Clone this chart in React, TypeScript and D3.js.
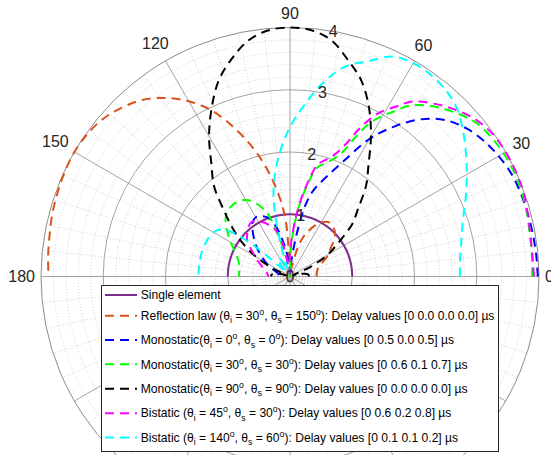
import React from "react";
import * as d3 from "d3";

// polar grid ticks
const rTicks = [0, 1, 2, 3, 4];
const thetaLabels = [0, 30, 60, 90, 120, 150, 180];

// Single element
const singleTheta = [0, 10, 20, 30, 40, 50, 60, 70, 80, 90, 100, 110, 120, 130, 140, 150, 160, 170, 180];
const singleR = [1, 1, 1, 1, 1, 1, 1, 1, 1, 1, 1, 1, 1, 1, 1, 1, 1, 1, 1];

// Reflection law
const reflTheta = [0, 5, 10, 15, 20, 25, 30, 35, 40, 45, 50, 55, 60, 65, 70, 73, 76, 80, 85, 90, 93, 95, 100, 105, 110, 115, 120, 125, 130, 135, 140, 145, 150, 155, 160, 165, 170, 175, 180];
const reflR = [0.43, 0.43, 0.44, 0.46, 0.5, 0.6, 0.72, 0.8, 0.93, 1.02, 1.06, 1.07, 1.0, 0.88, 0.72, 0.6, 0.4, 0.15, 0.0, 0.15, 0.5, 1.0, 1.55, 2.05, 2.5, 2.93, 3.25, 3.5, 3.7, 3.83, 3.93, 3.98, 4.0, 3.99, 3.97, 3.95, 3.92, 3.9, 3.88];

// Monostatic 0/0
const mono0Theta = [0, 5, 10, 15, 20, 25, 30, 35, 40, 45, 50, 55, 60, 65, 70, 75, 78, 80, 82, 85, 88, 92, 95, 100, 105, 110, 115, 120, 125, 130, 135, 140, 145, 150, 155, 160, 170, 180];
const mono0R = [3.98, 3.97, 3.96, 3.95, 3.94, 3.92, 3.87, 3.8, 3.7, 3.55, 3.3, 2.95, 2.55, 2.05, 1.7, 1.42, 1.15, 0.85, 0.55, 0.25, 0.05, 0.1, 0.25, 0.5, 0.8, 1.0, 1.07, 1.1, 1.05, 0.93, 0.8, 0.68, 0.55, 0.45, 0.35, 0.25, 0.18, 0.15];

// Monostatic 30/30
const mono30Theta = [0, 5, 10, 15, 20, 25, 30, 35, 40, 45, 50, 55, 58, 60, 62.5, 65, 67, 70, 73, 76, 80, 84, 88, 93, 100, 104, 107, 110, 115, 120, 125, 130, 135, 140, 145, 150, 155, 160, 165, 170, 175, 180];
const mono30R = [3.89, 3.9, 3.91, 3.94, 3.96, 3.97, 3.96, 3.93, 3.87, 3.73, 3.57, 3.35, 3.12, 2.98, 2.78, 2.45, 2.18, 2.0, 1.9, 1.8, 1.42, 0.98, 0.45, 0.0, 0.25, 0.5, 0.8, 1.1, 1.3, 1.42, 1.47, 1.47, 1.44, 1.35, 1.22, 1.1, 0.98, 0.9, 0.85, 0.83, 0.82, 0.82];

// Monostatic 90/90
const mono90Theta = [0, 5, 10, 15, 20, 25, 30, 35, 40, 45, 50, 55, 60, 65, 70, 75, 80, 85, 90, 95, 100, 105, 110, 115, 120, 125, 130, 135, 140, 145, 150, 155, 160, 165, 170, 175, 180];
const mono90R = [0.3, 0.3, 0.25, 0.15, 0.05, 0.35, 0.7, 0.95, 1.3, 1.55, 1.9, 2.2, 2.6, 3.0, 3.35, 3.6, 3.85, 3.97, 4.0, 3.97, 3.85, 3.62, 3.35, 2.98, 2.6, 2.2, 1.9, 1.5, 1.2, 0.92, 0.62, 0.3, 0.05, 0.15, 0.25, 0.3, 0.3];

// Bistatic 45/30
const bi45Theta = [0, 5, 10, 15, 20, 25, 30, 35, 40, 45, 50, 55, 58, 62, 65, 67, 70, 73, 76, 80, 84, 88, 91, 94, 97, 101, 105, 110, 118, 125, 130, 135, 140, 145, 150, 155, 160, 165, 170, 175, 180];
const bi45R = [3.92, 3.91, 3.92, 3.95, 3.99, 4.0, 4.0, 3.98, 3.91, 3.78, 3.62, 3.43, 3.22, 2.95, 2.6, 2.32, 2.08, 1.96, 1.86, 1.46, 1.0, 0.55, 0.3, 0.2, 0.05, 0.4, 0.7, 0.85, 1.0, 1.07, 1.04, 0.97, 0.9, 0.76, 0.65, 0.56, 0.48, 0.42, 0.38, 0.36, 0.35];

// Bistatic 140/60
const bi140Theta = [0, 5, 10, 15, 20, 25, 30, 35, 40, 45, 50, 55, 60, 65, 70, 75, 80, 85, 90, 95, 100, 103, 105, 107, 110, 116, 122, 128, 133, 136, 138, 140, 143, 146, 150, 155, 160, 165, 170, 175, 180];
const bi140R = [2.73, 2.74, 2.79, 2.86, 2.97, 3.12, 3.28, 3.45, 3.63, 3.8, 3.9, 3.95, 3.96, 3.9, 3.68, 3.5, 3.18, 2.78, 2.4, 1.97, 1.5, 1.1, 0.7, 0.4, 0.1, 0.25, 0.35, 0.25, 0.1, 0.2, 0.5, 0.85, 1.2, 1.35, 1.42, 1.45, 1.46, 1.47, 1.47, 1.47, 1.47];

const series = [
  { label: "Single element", color: "#7E2F8E", dashed: false, theta: singleTheta, r: singleR },
  { label: "Reflection law (θ_i = 30^o, θ_s = 150^o): Delay values [0 0.0 0.0 0.0] µs", color: "#D95319", dashed: true, theta: reflTheta, r: reflR },
  { label: "Monostatic(θ_i = 0^o, θ_s = 0^o): Delay values [0 0.5 0.0 0.5] µs", color: "#0000FF", dashed: true, theta: mono0Theta, r: mono0R },
  { label: "Monostatic(θ_i = 30^o, θ_s = 30^o): Delay values [0 0.6 0.1 0.7] µs", color: "#00FF00", dashed: true, theta: mono30Theta, r: mono30R },
  { label: "Monostatic(θ_i = 90^o, θ_s = 90^o): Delay values [0 0.0 0.0 0.0] µs", color: "#000000", dashed: true, theta: mono90Theta, r: mono90R },
  { label: "Bistatic (θ_i = 45^o, θ_s = 30^o): Delay values [0 0.6 0.2 0.8] µs", color: "#FF00FF", dashed: true, theta: bi45Theta, r: bi45R },
  { label: "Bistatic (θ_i = 140^o, θ_s = 60^o): Delay values [0 0.1 0.1 0.2] µs", color: "#00FFFF", dashed: true, theta: bi140Theta, r: bi140R },
];

const cx = 290;
const cy = 276.5;
const font = "'Liberation Sans', Arial, Helvetica, sans-serif";

const rScale = d3.scaleLinear().domain([0, 4]).range([0, 249]);
// math angle (deg, ccw from east) -> d3 radial angle (rad, cw from north)
const aScale = d3.scaleLinear().domain([0, 360]).range([Math.PI / 2, Math.PI / 2 - 2 * Math.PI]);

const pt = (deg, r) => {
  const t = (deg * Math.PI) / 180;
  return [cx + rScale(r) * Math.cos(t), cy - rScale(r) * Math.sin(t)];
};

const TexText = ({ x, y, text, size }) => {
  const tokens = text.split(/([_^].)/).filter((s) => s.length);
  let cur = 0;
  return (
    <text x={x} y={y} fontSize={size} fontFamily={font} fill="#000" style={{ whiteSpace: "pre" }}>
      {tokens.map((tk, i) => {
        let off = 0;
        let fs = size;
        let str = tk;
        if (tk.length === 2 && tk[0] === "_") { off = 3.5; fs = 8.7; str = tk[1]; }
        else if (tk.length === 2 && tk[0] === "^") { off = -5; fs = 8.7; str = tk[1]; }
        const dy = off - cur;
        cur = off;
        return <tspan key={i} dy={dy} fontSize={fs}>{str}</tspan>;
      })}
    </text>
  );
};

const App = () => {
  const line = d3.lineRadial().curve(d3.curveCatmullRom.alpha(0.5));

  const minorR = d3.range(1, 20).map((i) => i * 0.2).filter((v) => Math.abs(v - Math.round(v)) > 1e-6);
  const minorA = d3.range(0, 360, 6).filter((a) => a % 30 !== 0);
  const majorA = d3.range(0, 360, 30);

  const legendX = 101.5, legendY = 285.5, legendW = 397, legendH = 166;
  const rowY = [295, 315.7, 340, 364.3, 388.7, 413.2, 437.6];

  return (
    <svg width={551} height={455} style={{ position: "absolute", left: 0, top: 0, background: "#fff" }}>
      <g fill="none">
        {minorR.map((v) => (
          <circle key={"mr" + v} cx={cx} cy={cy} r={rScale(v)} stroke="#c4c4c4" strokeWidth={0.8} strokeDasharray="1 2" />
        ))}
        {minorA.map((a) => {
          const [x, y] = pt(a, 4);
          return <line key={"ma" + a} x1={cx} y1={cy} x2={x} y2={y} stroke="#c4c4c4" strokeWidth={0.8} strokeDasharray="1 2" />;
        })}
        {[1, 2, 3].map((v) => (
          <circle key={"r" + v} cx={cx} cy={cy} r={rScale(v)} stroke="#a3a3a3" strokeWidth={1} />
        ))}
        {majorA.map((a) => {
          const [x, y] = pt(a, 4);
          return <line key={"a" + a} x1={cx} y1={cy} x2={x} y2={y} stroke="#a3a3a3" strokeWidth={1} />;
        })}
        <circle cx={cx} cy={cy} r={rScale(4)} stroke="#8c8c8c" strokeWidth={1} />
      </g>

      <g transform={`translate(${cx},${cy})`} fill="none">
        {series.map((s, i) => (
          <path
            key={i}
            d={line(s.theta.map((t, j) => [aScale(t), rScale(s.r[j])]))}
            stroke={s.color}
            strokeWidth={2}
            strokeDasharray={s.dashed ? "9 6" : undefined}
          />
        ))}
      </g>

      <g fontFamily={font} fontSize={16} fill="#262626">
        {thetaLabels.map((a) => {
          const t = (a * Math.PI) / 180;
          const txt = String(a);
          const w = 0.556 * 16 * txt.length;
          const h = 0.716 * 16;
          const ext = (Math.abs(Math.cos(t)) * w) / 2 + (Math.abs(Math.sin(t)) * h) / 2;
          const rr = 249 + 6 + 3 * Math.abs(Math.sin(t)) + ext;
          const x = cx + rr * Math.cos(t);
          const y = cy - rr * Math.sin(t);
          return (
            <text key={"tl" + a} x={x} y={y + h / 2} textAnchor="middle">{txt}</text>
          );
        })}
        {rTicks.map((v) => {
          const [x, y] = pt(80, v);
          return (
            <text key={"rl" + v} x={x} y={y + 5.7} textAnchor="middle">{v}</text>
          );
        })}
      </g>

      <g>
        <rect x={legendX} y={legendY} width={legendW} height={legendH} fill="#fff" stroke="#262626" strokeWidth={1} />
        {series.map((s, i) => (
          <g key={"lg" + i}>
            <line
              x1={105}
              x2={137}
              y1={rowY[i]}
              y2={rowY[i]}
              stroke={s.color}
              strokeWidth={2}
              strokeDasharray={s.dashed ? "9 6" : undefined}
            />
            <TexText x={140.7} y={rowY[i] + 4.2} text={s.label} size={12.1} />
          </g>
        ))}
      </g>
    </svg>
  );
};

export default App;
